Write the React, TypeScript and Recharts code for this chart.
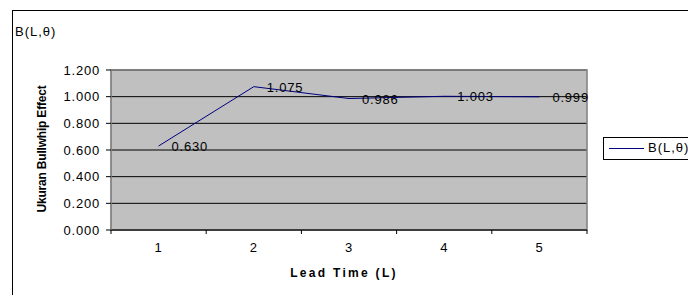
import {
    LineChart,
    Line,
    XAxis,
    YAxis,
    CartesianGrid,
    ReferenceArea,
    LabelList,
} from "recharts";

const leadTimes = [1, 2, 3, 4, 5];
const bValues = [0.63, 1.075, 0.986, 1.003, 0.999];
const yTicks = [0, 0.2, 0.4, 0.6, 0.8, 1.0, 1.2];
const xTicks = [0.5, 1, 1.5, 2, 2.5, 3, 3.5, 4, 4.5, 5, 5.5];

const seriesName = "B(L,\u03b8)";
const font = "'Liberation Sans', Arial, sans-serif";

const chartData = leadTimes.map((l, i) => ({ L: l, B: bValues[i] }));

function XTick(props: any) {
    const { x, y, payload } = props;
    const v = payload.value;
    if (Number.isInteger(v)) {
        return (
            <text x={x} y={y + 19} textAnchor="middle" dominantBaseline="middle"
                fontSize={13} letterSpacing={0.8} fill="#000" fontFamily={font}>
                {v}
            </text>
        );
    }
    return <line x1={x} y1={y} x2={x} y2={y + 4} stroke="#000" />;
}

function ValueLabel(props: any) {
    const { x, y, value } = props;
    return (
        <text x={x + 13} y={y + 5} fontSize={13} letterSpacing={0.8} fill="#000" fontFamily={font}>
            {Number(value).toFixed(3)}
        </text>
    );
}

export default function App() {
    return (
        <div style={{ position: "absolute", left: 0, top: 0, width: 688, height: 295, overflow: "hidden", background: "#fff", fontFamily: font }}>
            <div style={{ position: "absolute", left: 12, top: 10, width: 700, height: 300, border: "1px solid #000", boxSizing: "border-box" }} />

            <div style={{ position: "absolute", left: 15, top: 24, fontSize: 13, letterSpacing: 1, color: "#000" }}>
                {seriesName}
            </div>

            <LineChart
                width={688}
                height={295}
                data={chartData}
                margin={{ top: 70, right: 101, bottom: 35, left: 51 }}
            >
                <CartesianGrid
                    vertical={false}
                    fill="#c0c0c0"
                    stroke="#000"
                    horizontalValues={yTicks}
                />
                <ReferenceArea y1={0} y2={1.2} fill="none" stroke="#808080" strokeWidth={1.5} />
                <XAxis
                    dataKey="L"
                    type="number"
                    domain={[0.5, 5.5]}
                    ticks={xTicks}
                    interval={0}
                    tick={<XTick />}
                    tickLine={false}
                    tickSize={0}
                    tickMargin={0}
                    height={30}
                    axisLine={{ stroke: "#000" }}
                />
                <YAxis
                    domain={[0, 1.2]}
                    ticks={yTicks}
                    interval={0}
                    width={60}
                    tickSize={5}
                    tickMargin={6}
                    tickFormatter={(v: number) => v.toFixed(3)}
                    tick={{ fontSize: 13, fill: "#000", fontFamily: font, letterSpacing: 0.8 }}
                    tickLine={{ stroke: "#000" }}
                    axisLine={{ stroke: "#808080" }}
                />
                <Line
                    type="linear"
                    dataKey="B"
                    stroke="#000080"
                    strokeWidth={1}
                    dot={false}
                    isAnimationActive={false}
                >
                    <LabelList dataKey="B" content={<ValueLabel />} />
                </Line>
            </LineChart>

            <div style={{
                position: "absolute", left: 42, top: 149, transform: "translate(-50%, -50%) rotate(-90deg)",
                fontSize: 12, fontWeight: "bold", whiteSpace: "nowrap", letterSpacing: -0.2, color: "#000",
            }}>
                Ukuran Bullwhip Effect
            </div>

            <div style={{
                position: "absolute", left: 344, top: 273, transform: "translate(-50%, -50%)",
                fontSize: 12, fontWeight: "bold", whiteSpace: "nowrap", letterSpacing: 2.3, color: "#000",
            }}>
                Lead Time (L)
            </div>

            <div style={{
                position: "absolute", left: 603, top: 137, width: 100, height: 23,
                border: "1px solid #000", boxSizing: "border-box", background: "#fff",
            }}>
                <div style={{ position: "absolute", left: 5, top: 10, width: 35, height: 1, background: "#000080" }} />
                <div style={{ position: "absolute", left: 44, top: 2, fontSize: 13, letterSpacing: 1, color: "#000", whiteSpace: "nowrap" }}>
                    {seriesName}
                </div>
            </div>
        </div>
    );
}
